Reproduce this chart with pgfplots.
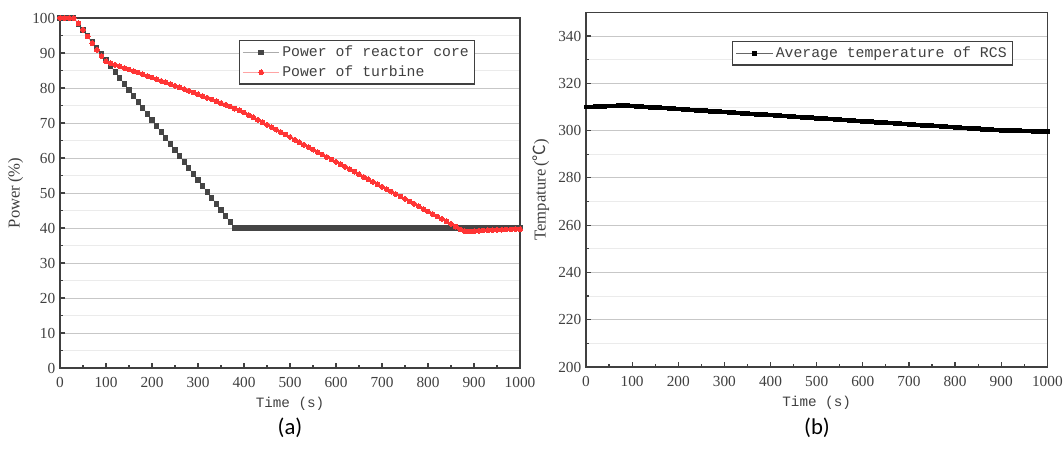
\documentclass[border=0pt]{standalone}
\usepackage{fontspec}
\setmainfont{Liberation Serif}
\newfontfamily\monofont{Liberation Mono}
\newfontfamily\cjk{Noto Sans CJK SC}
\newfontfamily\capfont{Carlito}
\usepackage{pgfplots}
\pgfplotsset{compat=1.18}

\definecolor{axgray}{HTML}{404040}
\definecolor{coregray}{HTML}{454545}
\definecolor{turbred}{HTML}{FF3535}

\pgfplotsset{
  panel/.style={
    scale only axis,
    xmin=0, xmax=1000,
    xtick={0,100,...,1000}, minor x tick num=1,
    tick align=inside, tick pos=left,
    major tick length=4pt, minor tick length=2.5pt,
    axis line style={axgray, line width=1.1pt},
    every tick/.style={axgray, line width=0.9pt},
    ymajorgrids, yminorgrids,
    major grid style={black!22, line width=0.6pt},
    minor grid style={black!8, line width=0.5pt},
    ticklabel style={font=\fontsize{11.5}{13}\selectfont, text=axgray},
    xticklabel shift=3.5pt,
    /pgf/number format/assume math mode=true,
    /pgf/number format/set thousands separator={},
    xlabel={\monofont Time (s)},
    xlabel style={font=\fontsize{10.7}{12}\selectfont, text=axgray},
    ylabel style={font=\fontsize{12.5}{14}\selectfont, text=axgray},
    legend style={draw=axgray, line width=0.8pt, font=\monofont\fontsize{11.1}{12}\selectfont,
      text=axgray, inner xsep=2.5pt, inner ysep=2pt, row sep=1.5pt},
    legend image code/.code={
      \draw[mark repeat=2,mark phase=2,#1]
        plot coordinates {(0cm,0cm) (0.48cm,0cm) (0.96cm,0cm)};
    },
    legend cell align=left,
  },
}

\begin{document}
\begin{tikzpicture}
\path[use as bounding box] (0,0) rectangle (797.25pt,340.5pt);

% (a) power
\begin{axis}[panel,
  at={(45pt,64.5pt)}, anchor=south west,
  width=345pt, height=262.5pt,
  ymin=0, ymax=100, ytick={0,10,...,100}, minor y tick num=1,
  ylabel={Power\,(\%)},
  legend style={at={(0.903,0.937)}, anchor=north east},
]
\addplot[coregray!45, line width=0.5pt, mark=square*, mark size=1.6pt,
  mark options={coregray, fill=coregray, line width=0pt}] coordinates {
(0,100)(10,100)(20,100)(30,100)(40,98.29)(50,96.57)(60,94.86)(70,93.14)(80,91.43)(90,89.71)
(100,88.00)(110,86.29)(120,84.57)(130,82.86)(140,81.14)(150,79.43)(160,77.71)(170,76.00)(180,74.29)(190,72.57)
(200,70.86)(210,69.14)(220,67.43)(230,65.71)(240,64.00)(250,62.29)(260,60.57)(270,58.86)(280,57.14)(290,55.43)
(300,53.71)(310,52.00)(320,50.29)(330,48.57)(340,46.86)(350,45.14)(360,43.43)(370,41.71)(380,40)(390,40)
(400,40)(410,40)(420,40)(430,40)(440,40)(450,40)(460,40)(470,40)(480,40)(490,40)
(500,40)(510,40)(520,40)(530,40)(540,40)(550,40)(560,40)(570,40)(580,40)(590,40)
(600,40)(610,40)(620,40)(630,40)(640,40)(650,40)(660,40)(670,40)(680,40)(690,40)
(700,40)(710,40)(720,40)(730,40)(740,40)(750,40)(760,40)(770,40)(780,40)(790,40)
(800,40)(810,40)(820,40)(830,40)(840,40)(850,40)(860,40)(870,40)(880,40)(890,40)
(900,40)(910,40)(920,40)(930,40)(940,40)(950,40)(960,40)(970,40)(980,40)(990,40)(1000,40)
};
\addlegendentry{Power of reactor core}
\addplot[turbred!45, line width=0.5pt, mark=*, mark size=1.8pt,
  mark options={turbred, fill=turbred, line width=0pt}] coordinates {
(0,100)(10,100)(20,100)(30,99.9)(40,98.5)(50,96.6)(60,94.7)(70,92.8)(80,90.9)(90,89.1)
(100,87.6)(110,87.1)(120,86.6)(130,86.2)(140,85.7)(150,85.3)(160,84.8)(170,84.4)(180,83.9)(190,83.4)
(200,83.0)(210,82.5)(220,82.0)(230,81.6)(240,81.1)(250,80.6)(260,80.2)(270,79.7)(280,79.2)(290,78.7)
(300,78.2)(310,77.7)(320,77.2)(330,76.7)(340,76.2)(350,75.7)(360,75.2)(370,74.7)(380,74.1)(390,73.6)
(400,73.0)(410,72.3)(420,71.6)(430,70.9)(440,70.2)(450,69.5)(460,68.8)(470,68.1)(480,67.4)(490,66.7)
(500,66.0)(510,65.2)(520,64.5)(530,63.8)(540,63.1)(550,62.4)(560,61.7)(570,61.0)(580,60.3)(590,59.6)
(600,58.9)(610,58.2)(620,57.5)(630,56.8)(640,56.1)(650,55.4)(660,54.6)(670,53.9)(680,53.2)(690,52.5)
(700,51.8)(710,51.1)(720,50.4)(730,49.7)(740,49.0)(750,48.3)(760,47.6)(770,46.9)(780,46.2)(790,45.4)
(800,44.7)(810,44.0)(820,43.3)(830,42.6)(840,41.9)(850,41.2)(860,40.4)(870,39.6)(880,39.1)(890,39.0)
(900,39.1)(910,39.2)(920,39.3)(930,39.4)(940,39.4)(950,39.5)(960,39.5)(970,39.6)(980,39.6)(990,39.7)(1000,39.7)
};
\addlegendentry{Power of turbine}
\end{axis}

% (b) temperature
\begin{axis}[panel,
  at={(439.5pt,65.25pt)}, anchor=south west,
  width=346pt, height=266pt,
  ymin=200, ymax=350, ytick={200,220,...,340}, minor y tick num=1,
  ylabel={Tempature\,({\cjk ℃})},
  legend style={at={(0.926,0.919)}, anchor=north east},
]
\addplot[black!60, line width=0.5pt, mark=square*, mark size=1.4pt,
  mark options={black, fill=black, line width=0pt}] coordinates {
(0,310.0)(10,310.0)(20,310.1)(30,310.2)(40,310.3)(50,310.4)(60,310.4)(70,310.5)(80,310.5)(90,310.5)
(100,310.40)(110,310.27)(120,310.14)(130,310.01)(140,309.88)(150,309.76)(160,309.63)(170,309.50)(180,309.37)(190,309.24)
(200,309.11)(210,308.98)(220,308.85)(230,308.72)(240,308.59)(250,308.47)(260,308.34)(270,308.21)(280,308.08)(290,307.95)
(300,307.82)(310,307.69)(320,307.56)(330,307.43)(340,307.30)(350,307.18)(360,307.05)(370,306.92)(380,306.79)(390,306.66)
(400,306.53)(410,306.40)(420,306.27)(430,306.14)(440,306.01)(450,305.89)(460,305.76)(470,305.63)(480,305.50)(490,305.37)
(500,305.24)(510,305.11)(520,304.98)(530,304.85)(540,304.72)(550,304.60)(560,304.47)(570,304.34)(580,304.21)(590,304.08)
(600,303.95)(610,303.82)(620,303.69)(630,303.56)(640,303.43)(650,303.31)(660,303.18)(670,303.05)(680,302.92)(690,302.79)
(700,302.66)(710,302.53)(720,302.40)(730,302.27)(740,302.14)(750,302.02)(760,301.89)(770,301.76)(780,301.63)(790,301.50)
(800,301.37)(810,301.24)(820,301.11)(830,300.98)(840,300.85)(850,300.73)(860,300.60)(870,300.47)(880,300.34)(890,300.21)
(900,300.08)(910,300.03)(920,299.98)(930,299.93)(940,299.88)(950,299.83)(960,299.78)(970,299.73)(980,299.68)(990,299.64)(1000,299.60)
};
\addlegendentry{Average temperature of RCS}
\end{axis}

\node[font=\capfont\fontsize{17}{20}\selectfont] at (217.5pt,19.5pt) {(a)};
\node[font=\capfont\fontsize{17}{20}\selectfont] at (612.75pt,19.5pt) {(b)};
\end{tikzpicture}
\end{document}
